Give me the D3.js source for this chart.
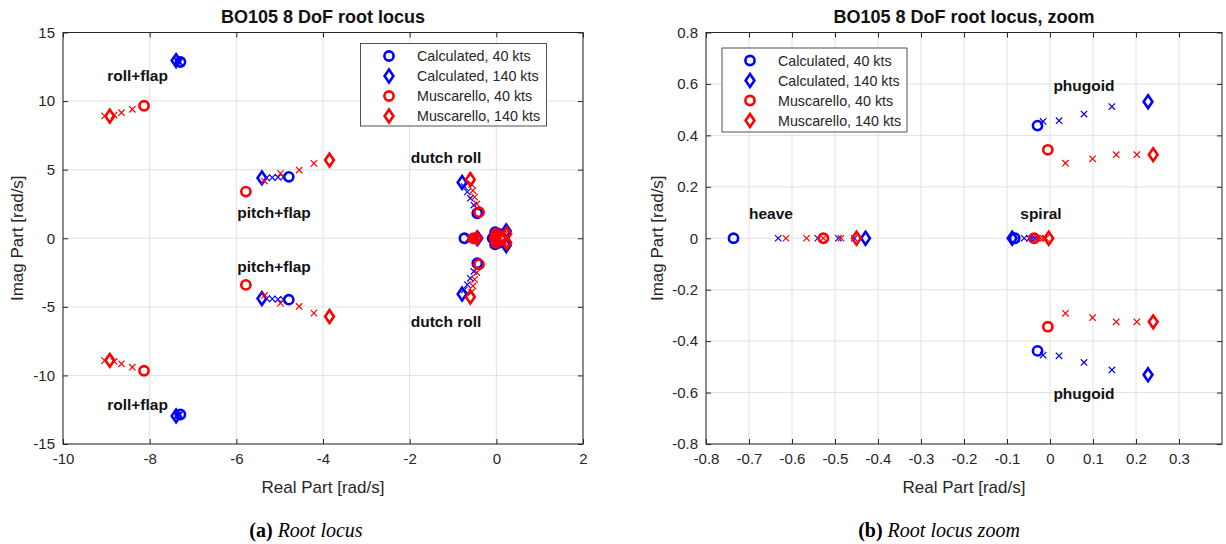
<!DOCTYPE html>
<html>
<head>
<meta charset="utf-8">
<script src="https://cdn.jsdelivr.net/npm/d3@7"></script>
<style>
body { margin: 0; background: #fff; }
text { font-family: "Liberation Sans", Arial, sans-serif; }
</style>
</head>
<body>
<script>
// eigenvalues [real, imag]
var calc40 = [
    [-7.29, 12.85], [-7.29, -12.85],
    [-4.79, 4.48], [-4.79, -4.48],
    [-0.44, 1.82], [-0.44, -1.82],
    [-0.736, 0], [-0.082, 0],
    [-0.029, 0.438], [-0.029, -0.438]
]
var calc140 = [
    [-7.39, 12.95], [-7.39, -12.95],
    [-5.41, 4.40], [-5.41, -4.40],
    [-0.79, 4.07], [-0.79, -4.07],
    [-0.429, 0], [-0.088, 0],
    [0.228, 0.531], [0.228, -0.531]
]
var musc40 = [
    [-8.13, 9.66], [-8.13, -9.66],
    [-5.78, 3.40], [-5.78, -3.40],
    [-0.40, 1.90], [-0.40, -1.90],
    [-0.527, 0], [-0.037, 0],
    [-0.005, 0.344], [-0.005, -0.344]
]
var musc140 = [
    [-8.92, 8.90], [-8.92, -8.90],
    [-3.85, 5.70], [-3.85, -5.70],
    [-0.60, 4.28], [-0.60, -4.28],
    [-0.450, 0], [-0.003, 0],
    [0.240, 0.325], [0.240, -0.325]
]
// intermediate speeds (60..120 kts)
var calcMid = [
    [-7.31, 12.87], [-7.33, 12.89], [-7.35, 12.91], [-7.37, 12.93],
    [-7.31, -12.87], [-7.33, -12.89], [-7.35, -12.91], [-7.37, -12.93],
    [-5.30, 4.40], [-5.17, 4.42], [-5.04, 4.45], [-4.91, 4.47],
    [-5.30, -4.40], [-5.17, -4.42], [-5.04, -4.45], [-4.91, -4.47],
    [-0.52, 2.42], [-0.60, 2.92], [-0.67, 3.38], [-0.74, 3.76],
    [-0.52, -2.42], [-0.60, -2.92], [-0.67, -3.38], [-0.74, -3.76],
    [-0.632, 0], [-0.540, 0], [-0.492, 0], [-0.455, 0],
    [-0.060, 0], [-0.048, 0], [-0.042, 0], [-0.035, 0],
    [-0.016, 0.454], [0.021, 0.457], [0.079, 0.483], [0.144, 0.512],
    [-0.016, -0.454], [0.021, -0.457], [0.079, -0.483], [0.144, -0.512]
]
var muscMid = [
    [-8.40, 9.40], [-8.65, 9.15], [-8.82, 8.98], [-9.04, 8.92],
    [-8.40, -9.40], [-8.65, -9.15], [-8.82, -8.98], [-9.04, -8.92],
    [-5.35, 4.17], [-4.98, 4.73], [-4.55, 4.97], [-4.21, 5.46],
    [-5.35, -4.17], [-4.98, -4.73], [-4.55, -4.97], [-4.21, -5.46],
    [-0.45, 2.50], [-0.50, 3.00], [-0.54, 3.48], [-0.57, 3.92],
    [-0.45, -2.50], [-0.50, -3.00], [-0.54, -3.48], [-0.57, -3.92],
    [-0.614, 0], [-0.566, 0], [-0.527, 0], [-0.486, 0],
    [-0.030, 0], [-0.023, 0], [-0.016, 0], [-0.010, 0],
    [0.036, 0.292], [0.099, 0.309], [0.154, 0.325], [0.202, 0.325],
    [0.036, -0.292], [0.099, -0.309], [0.154, -0.325], [0.202, -0.325]
]

var legendNames = ["Calculated, 40 kts", "Calculated, 140 kts", "Muscarello, 40 kts", "Muscarello, 140 kts"]

var xTicksA = [-10, -8, -6, -4, -2, 0, 2]
var yTicksA = [-15, -10, -5, 0, 5, 10, 15]
var xTicksB = [-0.8, -0.7, -0.6, -0.5, -0.4, -0.3, -0.2, -0.1, 0, 0.1, 0.2, 0.3]
var yTicksB = [-0.8, -0.6, -0.4, -0.2, 0, 0.2, 0.4, 0.6, 0.8]

var modesA = [
    ["roll+flap", -8.28, 11.5], ["roll+flap", -8.28, -12.5],
    ["pitch+flap", -5.13, 1.48], ["pitch+flap", -5.13, -2.45],
    ["dutch roll", -1.16, 5.48], ["dutch roll", -1.16, -6.46]
]
var modesB = [
    ["phugoid", 0.079, 0.574], ["phugoid", 0.079, -0.626],
    ["heave", -0.649, 0.075], ["spiral", -0.021, 0.075]
]

var w = 1226, h = 544
var plotTop = 32.5, plotBottom = 444
var BLUE = "#0000ff", RED = "#ff0000", INK = "#262626"

var svg = d3.select("body").append("svg")
    .attr("width", w)
    .attr("height", h)

function diamond(hw, hh) {
    return "M0," + (-hh) + "L" + hw + ",0L0," + hh + "L" + (-hw) + ",0Z"
}

function addMarks(g, pts, kind, color, x, y) {
    var sel = g.append("g").selectAll("g").data(pts).enter().append("g")
        .attr("transform", function(d) { return "translate(" + x(d[0]) + "," + y(d[1]) + ")" })
    if (kind == "o") {
        sel.append("circle").attr("r", 4.6).attr("fill", "none")
            .attr("stroke", color).attr("stroke-width", 2.6)
    } else if (kind == "d") {
        sel.append("path").attr("d", diamond(4.4, 6.4)).attr("fill", "none")
            .attr("stroke", color).attr("stroke-width", 2.6)
    } else {
        sel.append("path").attr("d", "M-3.2,-3.2L3.2,3.2M-3.2,3.2L3.2,-3.2")
            .attr("stroke", color).attr("stroke-width", 1.2)
    }
}

function styleAxis(a) {
    a.attr("font-size", null).attr("font-family", null)
    a.select(".domain").remove()
    a.selectAll("line").attr("stroke", INK)
    a.selectAll("text").attr("fill", INK).style("font-size", "15px")
}

function drawPanel(p) {
    var x = d3.scaleLinear().domain(p.xDomain).range([p.left, p.right])
    var y = d3.scaleLinear().domain(p.yDomain).range([plotBottom, plotTop])
    var g = svg.append("g")

    // grid
    g.append("g").selectAll("line").data(p.xTicks).enter().append("line")
        .attr("x1", function(d) { return x(d) }).attr("x2", function(d) { return x(d) })
        .attr("y1", plotTop).attr("y2", plotBottom)
        .attr("stroke", "#e1e1e1").attr("stroke-width", 1)
    g.append("g").selectAll("line").data(p.yTicks).enter().append("line")
        .attr("y1", function(d) { return y(d) }).attr("y2", function(d) { return y(d) })
        .attr("x1", p.left).attr("x2", p.right)
        .attr("stroke", "#e1e1e1").attr("stroke-width", 1)

    // points
    svg.append("clipPath").attr("id", p.id)
        .append("rect").attr("x", p.left).attr("y", plotTop)
        .attr("width", p.right - p.left).attr("height", plotBottom - plotTop)
    var pg = g.append("g").attr("clip-path", "url(#" + p.id + ")")
    addMarks(pg, calcMid, "x", BLUE, x, y)
    addMarks(pg, calc40, "o", BLUE, x, y)
    addMarks(pg, calc140, "d", BLUE, x, y)
    addMarks(pg, muscMid, "x", RED, x, y)
    addMarks(pg, musc40, "o", RED, x, y)
    addMarks(pg, musc140, "d", RED, x, y)

    // box + axes
    g.append("rect").attr("x", p.left).attr("y", plotTop)
        .attr("width", p.right - p.left).attr("height", plotBottom - plotTop)
        .attr("fill", "none").attr("stroke", INK).attr("stroke-width", 1)

    g.append("g").attr("transform", "translate(0," + plotBottom + ")")
        .call(d3.axisBottom(x).tickValues(p.xTicks).tickFormat(p.fmt)
            .tickSizeInner(-5).tickSizeOuter(0).tickPadding(9))
        .call(styleAxis)
    g.append("g").attr("transform", "translate(0," + plotTop + ")")
        .call(d3.axisTop(x).tickValues(p.xTicks).tickFormat("")
            .tickSizeInner(-5).tickSizeOuter(0))
        .call(styleAxis)
    g.append("g").attr("transform", "translate(" + p.left + ",0)")
        .call(d3.axisLeft(y).tickValues(p.yTicks).tickFormat(p.fmt)
            .tickSizeInner(-5).tickSizeOuter(0).tickPadding(8))
        .call(styleAxis)
    g.append("g").attr("transform", "translate(" + p.right + ",0)")
        .call(d3.axisRight(y).tickValues(p.yTicks).tickFormat("")
            .tickSizeInner(-5).tickSizeOuter(0))
        .call(styleAxis)

    // mode labels
    g.append("g").selectAll("text").data(p.modes).enter().append("text")
        .attr("x", function(d) { return x(d[1]) })
        .attr("y", function(d) { return y(d[2]) })
        .attr("text-anchor", "middle")
        .attr("font-weight", "bold").attr("font-size", "15.5px").attr("fill", "#111")
        .text(function(d) { return d[0] })

    // titles
    var cx = (p.left + p.right) / 2
    svg.append("text").attr("x", cx).attr("y", 23).attr("text-anchor", "middle")
        .attr("font-weight", "bold").attr("font-size", "18px").attr("fill", "#111")
        .text(p.title)
    svg.append("text").attr("x", cx).attr("y", 493).attr("text-anchor", "middle")
        .attr("font-size", "17px").attr("fill", INK)
        .text("Real Part [rad/s]")
    svg.append("text").attr("transform", "translate(" + p.ylabX + "," + ((plotTop + plotBottom) / 2) + ") rotate(-90)")
        .attr("text-anchor", "middle").attr("font-size", "17px").attr("fill", INK)
        .text("Imag Part [rad/s]")

    // caption
    var cap = svg.append("text").attr("x", p.capX).attr("y", 537).attr("text-anchor", "middle")
        .style("font-family", "'Liberation Serif', 'Times New Roman', serif")
        .attr("font-size", "20px").attr("fill", "#000")
    cap.append("tspan").attr("font-weight", "bold").text(p.cap[0])
    cap.append("tspan").attr("font-style", "italic").text(" " + p.cap[1])

    // legend
    var L = p.legend
    var lg = svg.append("g")
    lg.append("rect").attr("x", L.x).attr("y", L.y).attr("width", L.w).attr("height", L.h)
        .attr("fill", "#fff").attr("stroke", INK).attr("stroke-width", 0.8)
    var kinds = [["o", BLUE], ["d", BLUE], ["o", RED], ["d", RED]]
    legendNames.forEach(function(name, i) {
        var ry = L.y + 12.5 + i * 20
        var mg = lg.append("g")
        addMarks(mg, [[0, 0]], kinds[i][0], kinds[i][1],
            function() { return L.x + L.mx }, function() { return ry })
        lg.append("text").attr("x", L.x + L.tx).attr("y", ry).attr("dy", "0.35em")
            .attr("font-size", "14.3px").attr("fill", INK).text(name)
    })
}

function fmtB(d) {
    if (Math.abs(d) < 1e-9) return "0"
    return d.toFixed(1)
}

drawPanel({
    id: "clipA", left: 63, right: 583,
    xDomain: [-10, 2], yDomain: [-15, 15],
    xTicks: xTicksA, yTicks: yTicksA,
    fmt: function(d) { return String(d) },
    modes: modesA,
    title: "BO105 8 DoF root locus",
    ylabX: 23, capX: 306, cap: ["(a)", "Root locus"],
    legend: {x: 360.5, y: 43.5, w: 186, h: 82.5, mx: 28.5, tx: 56.5}
})

drawPanel({
    id: "clipB", left: 706, right: 1222,
    xDomain: [-0.8, 0.4], yDomain: [-0.8, 0.8],
    xTicks: xTicksB, yTicks: yTicksB,
    fmt: fmtB,
    modes: modesB,
    title: "BO105 8 DoF root locus, zoom",
    ylabX: 663, capX: 939, cap: ["(b)", "Root locus zoom"],
    legend: {x: 722, y: 48, w: 185, h: 84, mx: 28, tx: 56}
})
</script>
</body>
</html>
